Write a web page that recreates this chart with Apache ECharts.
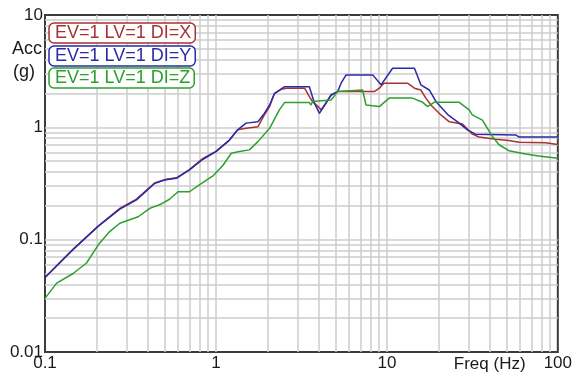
<!DOCTYPE html>
<html>
<head>
<meta charset="utf-8">
<script src="https://cdn.jsdelivr.net/npm/echarts@6/dist/echarts.min.js"></script>
<style>
html,body{margin:0;padding:0;background:#fff;}
#chart{width:575px;height:374px;}
</style>
</head>
<body>
<div id="chart"></div>
<script>
// ---- data ----
const seriesNames = ['EV=1 LV=1 DI=X', 'EV=1 LV=1 DI=Y', 'EV=1 LV=1 DI=Z'];

const freqX = [0.1,0.146,0.205,0.274,0.343,0.439,0.513,0.587,0.70,0.84,1.0,1.2,1.34,1.5,1.76,1.92,2.06,2.2,2.41,2.6,3.3,3.52,3.68,3.93,4.13,4.72,5.15,8.45,9.04,9.6,13.2,14.5,15.8,16.9,18.1,20.7,23.2,27.7,31.6,34.6,43.3,51.7,59.3,84.7,100];
const accX  = [0.046,0.082,0.132,0.19,0.23,0.32,0.345,0.355,0.42,0.53,0.61,0.77,0.95,0.98,1.01,1.29,1.53,2.01,2.18,2.23,2.23,1.88,1.69,1.55,1.43,1.94,2.08,2.08,2.23,2.47,2.47,2.23,2.15,1.82,1.58,1.29,1.12,1.07,0.87,0.82,0.785,0.765,0.735,0.73,0.705];

const freqY = [0.1,0.146,0.205,0.274,0.343,0.439,0.5,0.587,0.70,0.84,1.0,1.2,1.34,1.5,1.76,1.92,2.06,2.2,2.52,3.52,3.77,4.03,4.72,5.15,5.4,5.77,8.26,9.25,10.8,14.5,15.8,17.7,19.4,22.7,26.5,29.6,33,56.8,59.3,100];
const accY  = [0.046,0.082,0.132,0.187,0.226,0.318,0.34,0.352,0.418,0.52,0.608,0.77,0.95,1.09,1.12,1.33,1.58,2.0,2.30,2.30,1.64,1.33,1.94,2.08,2.47,2.93,2.93,2.39,3.36,3.36,2.39,2.15,1.69,1.30,1.09,0.95,0.87,0.855,0.82,0.82];

const freqZ = [0.1,0.117,0.146,0.175,0.205,0.239,0.274,0.351,0.41,0.48,0.535,0.60,0.70,0.80,0.96,1.10,1.23,1.37,1.57,1.76,2.06,2.35,2.52,3.52,3.60,3.68,4.72,5.15,7.21,7.55,9.04,10.3,14.1,16.2,17.3,18.9,26.5,30.3,31.6,36.2,41.4,45.3,51.7,64.9,77.1,100];
const accZ  = [0.030,0.041,0.050,0.062,0.090,0.118,0.14,0.16,0.19,0.208,0.229,0.267,0.267,0.307,0.369,0.46,0.588,0.61,0.63,0.746,0.98,1.43,1.66,1.66,1.58,1.70,1.75,2.08,2.15,1.58,1.53,1.82,1.82,1.67,1.53,1.67,1.67,1.43,1.29,1.16,0.83,0.70,0.62,0.58,0.556,0.53];

const xTickValues = [0.1, 1, 10, 100];
const xTickLabels = ['0.1', '1', '10', '100'];
const yTickValues = [0.01, 0.1, 1, 10];
const yTickLabels = ['0.01', '0.1', '1', '10'];

const xAxisName = 'Freq (Hz)';
const yAxisNameLines = ['Acc', '(g)'];

// ---- styles ----
const colors = ['#a83232', '#2a2aa8', '#2ca02c'];
const FONT = "'Liberation Sans', Arial, sans-serif";

function pairs(fs, as) { return fs.map((f, i) => [f, as[i]]); }
function labelFor(values, labels) {
  return function (v) {
    for (let i = 0; i < values.length; i++) {
      if (Math.abs(Math.log10(values[i]) - Math.log10(v)) < 1e-6) return labels[i];
    }
    return '';
  };
}
// log grid lines (1..9 x decade), interior only
function logGrid(lo, hi) {
  const out = [];
  for (let d = lo; d < hi * 0.999; d *= 10) {
    for (let k = 1; k <= 9; k++) {
      const v = +(d * k).toPrecision(4);
      if (v > lo * 1.0001 && v < hi * 0.9999) out.push(v);
    }
  }
  return out;
}
const gridXs = logGrid(0.1, 100);
const gridYs = logGrid(0.01, 10);

const chart = echarts.init(document.getElementById('chart'), null, { renderer: 'canvas' });

const legendTops = [23, 46, 68];
const option = {
  animation: false,
  backgroundColor: '#ffffff',
  grid: {
    left: 45, top: 15, width: 514, height: 337,
    show: true, borderColor: '#3c3c3c', borderWidth: 2, backgroundColor: 'transparent'
  },
  xAxis: {
    type: 'log', logBase: 10, min: 0.1, max: 100,
    axisLine: { show: false },
    axisTick: { show: false },
    splitLine: { show: false },
    axisLabel: {
      margin: 3, color: '#1a1a1a', fontSize: 17, fontFamily: FONT,
      formatter: labelFor(xTickValues, xTickLabels),
      showMinLabel: true, showMaxLabel: true
    },
    name: xAxisName, nameLocation: 'end', nameGap: -104,
    nameTextStyle: { color: '#1a1a1a', fontSize: 17, fontFamily: FONT, align: 'left', verticalAlign: 'top', padding: [4, 0, 0, 0] }
  },
  yAxis: {
    type: 'log', logBase: 10, min: 0.01, max: 10,
    axisLine: { show: false },
    axisTick: { show: false },
    splitLine: { show: false },
    axisLabel: {
      margin: 2, color: '#1a1a1a', fontSize: 17, fontFamily: FONT,
      formatter: labelFor(yTickValues, yTickLabels),
      showMinLabel: true, showMaxLabel: true
    }
  },
  legend: seriesNames.map((n, i) => ({
    data: [n],
    left: 49, top: legendTops[i],
    orient: 'vertical',
    selectedMode: false,
    itemWidth: 0, itemHeight: 0,
    padding: [1, 4, 1, 0],
    borderColor: colors[i], borderWidth: 1.5, borderRadius: 5,
    backgroundColor: '#ffffff',
    textStyle: { color: colors[i], fontSize: 18, fontFamily: FONT, lineHeight: 18 }
  })),
  graphic: [
    { type: 'text', left: 12, top: 40, style: { text: yAxisNameLines[0], fill: '#1a1a1a', font: '18px ' + FONT } },
    { type: 'text', left: 13, top: 63, style: { text: yAxisNameLines[1], fill: '#1a1a1a', font: '18px ' + FONT } }
  ],
  series: [
    {
      type: 'line', name: '_grid', data: [[0.1, 0.01]], showSymbol: false, silent: true,
      lineStyle: { opacity: 0 }, z: 1,
      markLine: {
        silent: true, symbol: 'none', animation: false, z: 1,
        label: { show: false },
        lineStyle: { color: '#cdcdcd', width: 1.5, type: 'solid' },
        emphasis: { disabled: true },
        data: gridXs.map(v => ({ xAxis: v })).concat(gridYs.map(v => ({ yAxis: v })))
      }
    },
    { type: 'line', name: seriesNames[0], data: pairs(freqX, accX), showSymbol: false, z: 3,
      lineStyle: { color: colors[0], width: 1.5 }, itemStyle: { color: colors[0] } },
    { type: 'line', name: seriesNames[1], data: pairs(freqY, accY), showSymbol: false, z: 4,
      lineStyle: { color: colors[1], width: 1.5 }, itemStyle: { color: colors[1] } },
    { type: 'line', name: seriesNames[2], data: pairs(freqZ, accZ), showSymbol: false, z: 5,
      lineStyle: { color: colors[2], width: 1.5 }, itemStyle: { color: colors[2] } }
  ]
};
chart.setOption(option);
</script>
</body>
</html>
